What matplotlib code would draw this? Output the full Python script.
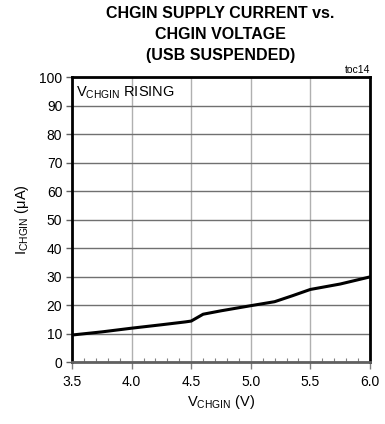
"""
CHGIN supply current vs CHGIN voltage (USB suspended)
"""
import matplotlib
matplotlib.use("Agg")
import matplotlib.pyplot as plt
from matplotlib.ticker import MultipleLocator

plt.rcParams['font.family'] = ['Liberation Sans', 'DejaVu Sans']

v_chgin = [3.5, 3.75, 4.0, 4.25, 4.45, 4.5, 4.55, 4.6, 4.75, 5.0, 5.2, 5.35, 5.5, 5.75, 6.0]
i_chgin = [9.5, 10.6, 11.9, 13.1, 14.1, 14.4, 15.6, 16.8, 18.0, 19.8, 21.2, 23.3, 25.5, 27.4, 29.9]
x_ticks = [3.5, 4.0, 4.5, 5.0, 5.5, 6.0]
y_ticks = list(range(0, 101, 10))

fig = plt.figure(figsize=(3.85, 4.24), dpi=100)
ax = fig.add_axes([0.187, 0.146, 0.774, 0.672])

ax.plot(v_chgin, i_chgin, color='black', lw=2.2, solid_capstyle='round')

ax.set_xlim(3.5, 6.0)
ax.set_ylim(0, 100)
ax.set_xticks(x_ticks)
ax.set_xticklabels(['%.1f' % x for x in x_ticks])
ax.set_yticks(y_ticks)
ax.xaxis.set_minor_locator(MultipleLocator(0.1))

ax.yaxis.grid(True, color='#707070', lw=1.0)
ax.xaxis.grid(True, color='#b0b0b0', lw=1.0)
ax.set_axisbelow(True)

for s in ax.spines.values():
    s.set_linewidth(2.0)
    s.set_color('black')
ax.spines['bottom'].set_color('#606060')

ax.tick_params(axis='x', which='major', direction='out', length=5, width=1,
               color='#808080', labelsize=10, pad=4)
ax.tick_params(axis='x', which='minor', direction='in', length=3, width=0.8,
               color='#808080')
ax.tick_params(axis='y', direction='out', length=4, width=1, color='#606060',
               labelsize=10, pad=3)

ax.set_xlabel(r'V$_{\mathregular{CHGIN}}$ (V)', fontsize=10.5, labelpad=3)
ax.set_ylabel(r'I$_{\mathregular{CHGIN}}$ ($\mathregular{\mu}$A)', fontsize=10.5, labelpad=6)

ax.text(0.012, 0.975, r'V$_{\mathregular{CHGIN}}$ RISING', transform=ax.transAxes,
        fontsize=10.5, va='top', ha='left')
ax.text(1.0, 1.008, 'toc14', transform=ax.transAxes, fontsize=7.5,
        va='bottom', ha='right')

fig.text(0.572, 0.985, 'CHGIN SUPPLY CURRENT vs.\nCHGIN VOLTAGE\n(USB SUSPENDED)',
         ha='center', va='top', fontsize=11.5, fontweight='bold', linespacing=1.5)

fig.savefig('out.png', dpi=100)
